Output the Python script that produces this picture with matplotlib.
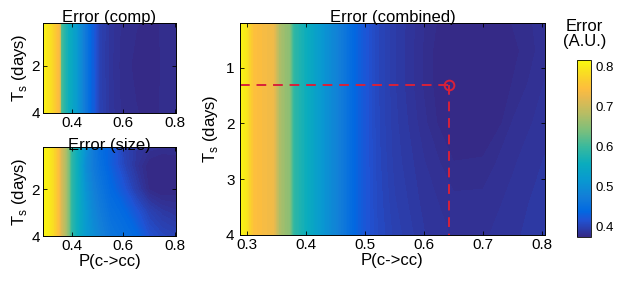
import numpy as np
import matplotlib
matplotlib.use('Agg')
import matplotlib.pyplot as plt
from matplotlib.colors import LinearSegmentedColormap

plt.rcParams['font.family'] = ['Liberation Sans', 'DejaVu Sans']

# parula-like colormap (MATLAB default)
parula_pts = [(0.2081, 0.1663, 0.5292), (0.1253, 0.3242, 0.8303), (0.0060, 0.4086, 0.8828),
              (0.0723, 0.4887, 0.8467), (0.0343, 0.5966, 0.8199), (0.0384, 0.6743, 0.7436),
              (0.2178, 0.7250, 0.6193), (0.4871, 0.7491, 0.4840), (0.7184, 0.7411, 0.3905),
              (0.9139, 0.7258, 0.3063), (0.9938, 0.7455, 0.2403), (0.9789, 0.8271, 0.1633),
              (0.9763, 0.9831, 0.0538)]
parula_pos = [0, 6, 9, 14, 20, 26, 32, 38, 44, 50, 53, 57, 63]
parula = LinearSegmentedColormap.from_list('parula', [(p / 63, c) for p, c in zip(parula_pos, parula_pts)])

# P(c->cc) grid for the two small panels
p_small = [0.288, 0.31, 0.33, 0.345, 0.355, 0.36, 0.375, 0.39, 0.40, 0.42, 0.45, 0.48, 0.51, 0.55,
           0.60, 0.65, 0.70, 0.75, 0.805]

# Error (comp)
ts_comp = [0.2, 2.0, 4.0]
err_comp = [
    [0.81, 0.79, 0.77, 0.745, 0.73, 0.61, 0.58, 0.555, 0.545, 0.52, 0.47, 0.43, 0.397, 0.386, 0.378, 0.376, 0.375, 0.376, 0.377],
    [0.81, 0.79, 0.77, 0.745, 0.73, 0.61, 0.58, 0.555, 0.545, 0.52, 0.47, 0.43, 0.397, 0.385, 0.377, 0.375, 0.374, 0.376, 0.377],
    [0.81, 0.79, 0.77, 0.745, 0.73, 0.61, 0.58, 0.555, 0.545, 0.52, 0.47, 0.43, 0.398, 0.386, 0.378, 0.376, 0.375, 0.376, 0.377],
]

# Error (size)
ts_size = [0.2, 1.0, 2.0, 3.0, 4.0]
err_size = [
    [0.81, 0.80, 0.78, 0.75, 0.73, 0.71, 0.68, 0.64, 0.59, 0.56, 0.51, 0.47, 0.445, 0.43, 0.40, 0.388, 0.382, 0.38, 0.38],
    [0.81, 0.80, 0.78, 0.75, 0.73, 0.71, 0.68, 0.64, 0.59, 0.56, 0.50, 0.47, 0.45, 0.43, 0.405, 0.385, 0.372, 0.368, 0.37],
    [0.81, 0.80, 0.78, 0.75, 0.73, 0.71, 0.68, 0.64, 0.59, 0.56, 0.51, 0.48, 0.46, 0.44, 0.42, 0.395, 0.375, 0.37, 0.372],
    [0.81, 0.80, 0.78, 0.75, 0.73, 0.71, 0.68, 0.64, 0.59, 0.56, 0.52, 0.49, 0.47, 0.45, 0.44, 0.42, 0.40, 0.39, 0.385],
    [0.81, 0.80, 0.78, 0.75, 0.73, 0.71, 0.68, 0.64, 0.59, 0.56, 0.52, 0.50, 0.48, 0.46, 0.45, 0.44, 0.415, 0.405, 0.40],
]

# Error (combined)
p_comb = [0.288, 0.300, 0.312, 0.345, 0.355, 0.372, 0.380, 0.40, 0.43, 0.46, 0.48, 0.50, 0.52,
          0.55, 0.60, 0.65, 0.70, 0.75, 0.805]
ts_comb = [0.2, 0.7, 1.3, 2.0, 2.7, 3.4, 4.0]
err_comb = [
    [0.81, 0.79, 0.745, 0.73, 0.675, 0.65, 0.59, 0.56, 0.51, 0.47, 0.44, 0.42, 0.405, 0.392, 0.380, 0.370, 0.368, 0.376, 0.382],
    [0.81, 0.79, 0.745, 0.73, 0.675, 0.65, 0.59, 0.56, 0.51, 0.47, 0.44, 0.42, 0.405, 0.392, 0.379, 0.368, 0.366, 0.374, 0.382],
    [0.81, 0.79, 0.745, 0.73, 0.675, 0.65, 0.59, 0.56, 0.51, 0.47, 0.44, 0.42, 0.405, 0.392, 0.379, 0.368, 0.366, 0.376, 0.384],
    [0.81, 0.79, 0.745, 0.73, 0.675, 0.65, 0.59, 0.56, 0.51, 0.47, 0.44, 0.42, 0.405, 0.393, 0.381, 0.369, 0.368, 0.380, 0.386],
    [0.81, 0.79, 0.745, 0.73, 0.675, 0.65, 0.59, 0.56, 0.51, 0.47, 0.44, 0.42, 0.406, 0.394, 0.384, 0.376, 0.377, 0.383, 0.388],
    [0.81, 0.79, 0.745, 0.73, 0.675, 0.65, 0.59, 0.56, 0.51, 0.47, 0.44, 0.42, 0.407, 0.396, 0.386, 0.381, 0.381, 0.385, 0.390],
    [0.81, 0.79, 0.745, 0.73, 0.675, 0.65, 0.59, 0.56, 0.51, 0.47, 0.44, 0.42, 0.408, 0.398, 0.388, 0.383, 0.383, 0.386, 0.392],
]

# best fit marker
best_p = 0.642
best_ts = 1.32

vmin, vmax = 0.374, 0.815
levels = np.linspace(0.36, 0.83, 120)
ylab = 'T$_\\mathregular{s}$ (days)'
xlab = 'P(c->cc)'


def style(ax):
    ax.set_xlim(0.288, 0.805)
    ax.set_ylim(4, 0.2)
    ax.tick_params(direction='in', top=True, right=True, length=3, width=0.6, labelsize=11, pad=2)
    for s in ax.spines.values():
        s.set_linewidth(0.7)


fig = plt.figure(figsize=(6.17, 2.83), dpi=100)

ax1 = fig.add_axes([0.0697, 0.601, 0.2156, 0.318])
ax1.contourf(p_small, ts_comp, err_comp, levels=levels, cmap=parula, vmin=vmin, vmax=vmax, extend='both')
style(ax1)
ax1.set_xticks([0.4, 0.6, 0.8])
ax1.set_yticks([2, 4])
ax1.set_title('Error (comp)', fontsize=12, pad=1)
ax1.set_ylabel(ylab, fontsize=12, labelpad=2)

ax2 = fig.add_axes([0.0697, 0.166, 0.2156, 0.315])
ax2.contourf(p_small, ts_size, err_size, levels=levels, cmap=parula, vmin=vmin, vmax=vmax, extend='both')
style(ax2)
ax2.set_xticks([0.4, 0.6, 0.8])
ax2.set_yticks([2, 4])
ax2.set_title('Error (size)', fontsize=12, pad=-2)
ax2.set_ylabel(ylab, fontsize=12, labelpad=2)
ax2.set_xlabel(xlab, fontsize=12, labelpad=1)

ax3 = fig.add_axes([0.389, 0.170, 0.494, 0.749])
ax3.contourf(p_comb, ts_comb, err_comb, levels=levels, cmap=parula, vmin=vmin, vmax=vmax, extend='both')
style(ax3)
ax3.set_xticks([0.3, 0.4, 0.5, 0.6, 0.7, 0.8])
ax3.set_yticks([1, 2, 3, 4])
ax3.tick_params(axis='y', pad=4)
ax3.set_title('Error (combined)', fontsize=12, pad=1)
ax3.set_ylabel(ylab, fontsize=12, labelpad=4)
ax3.set_xlabel(xlab, fontsize=12, labelpad=1)

red = '#d8213a'
ax3.plot([0.288, best_p], [best_ts, best_ts], color=red, lw=1.4, ls=(0, (5, 3.5)))
ax3.plot([best_p, best_p], [best_ts, 4], color=red, lw=1.4, ls=(0, (5, 3.5)))
ax3.plot(best_p, best_ts, 'o', mfc='none', mec=red, mew=1.4, ms=7)

cax = fig.add_axes([0.935, 0.163, 0.0227, 0.625])
sm = plt.cm.ScalarMappable(cmap=parula, norm=plt.Normalize(vmin, vmax))
cb = fig.colorbar(sm, cax=cax)
cb.set_ticks([0.4, 0.5, 0.6, 0.7, 0.8])
cb.ax.tick_params(labelsize=9.5, length=0, pad=3)
cb.outline.set_linewidth(0.6)
fig.text(0.947, 0.88, 'Error\n(A.U.)', ha='center', va='center', fontsize=12, linespacing=0.95)

fig.savefig('out.png', dpi=100)
